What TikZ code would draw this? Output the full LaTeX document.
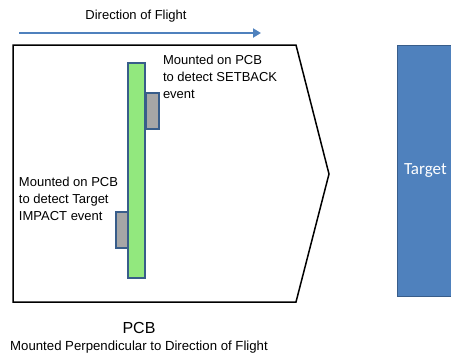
\documentclass[tikz,border=0pt]{standalone}
\usepackage{fontspec}
\setmainfont{Liberation Sans}
\newfontfamily\calibrifont{Carlito}
\usetikzlibrary{arrows.meta,positioning}
\definecolor{flyblue}{RGB}{79,129,189}
\definecolor{targetblue}{RGB}{79,129,189}
\definecolor{edgeblue}{RGB}{56,93,138}
\definecolor{boardgreen}{RGB}{146,232,126}
\definecolor{chipgray}{RGB}{166,166,166}

\begin{document}
\begin{tikzpicture}[x=1pt, y=-1pt,
    every node/.style={inner sep=0pt, outer sep=0pt},
    note/.style={align=left, font=\fontsize{13}{17}\selectfont, anchor=north west},
    pcbbar/.style={draw=edgeblue, fill=boardgreen, line width=1.2pt},
    sensor/.style={draw=edgeblue, fill=chipgray, line width=1.2pt},
    flyarrow/.style={-{Triangle[length=8pt, width=9pt]}, flyblue, line width=2pt},
]
    \useasboundingbox (0,0) rectangle (451,354);

    % direction of flight
    \coordinate (flyA) at (19,33);
    \coordinate (flyB) at (261,33);
    \draw[flyarrow] (flyA) -- (flyB);
    \node[font=\fontsize{13}{15}\selectfont] (flylabel) at (136,16) {Direction of Flight};

    % projectile outline
    \draw[line width=1.5pt, line join=miter] (13,45) -- (296,45) -- (329,174) -- (296,302) -- (13,302) -- cycle;

    % PCB and the two sensors
    \draw[pcbbar] (128,63) rectangle (145,278);
    \draw[sensor] (146,93) rectangle (159,129);
    \draw[sensor] (116,212) rectangle (128,248);

    \node[note] (setback) at (163,55) {Mounted on PCB\\to detect SETBACK\\event};
    \node[note] (impact) at (19,177) {Mounted on PCB\\to detect Target\\IMPACT event};

    % target
    \fill[targetblue, draw=edgeblue, line width=1pt] (397,45) rectangle (470,296);
    \node[font=\calibrifont\fontsize{17}{19}\selectfont, text=white, anchor=west] (target) at (404,171) {Target};

    \node[font=\fontsize{16}{18}\selectfont] (pcb) at (139,328) {PCB};
    \node[font=\fontsize{13.2}{15}\selectfont, below=7pt of pcb] (pcbnote) {Mounted Perpendicular to Direction of Flight};
\end{tikzpicture}
\end{document}
